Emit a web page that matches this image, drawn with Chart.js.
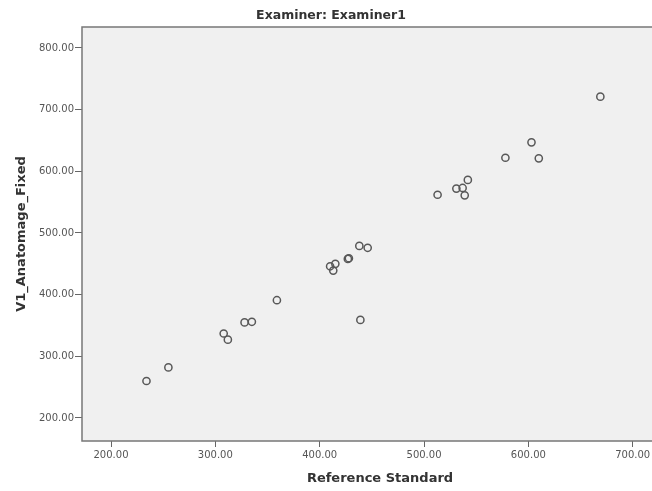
<!DOCTYPE html>
<html>
<head>
<meta charset="utf-8">
<script src="https://cdn.jsdelivr.net/npm/chart.js@4.4.0/dist/chart.umd.min.js"></script>
<style>
  html, body { margin: 0; padding: 0; background: #fff; overflow: hidden; }
  #wrap { width: 652px; height: 491px; }
</style>
</head>
<body>
<div id="wrap"><canvas id="chart"></canvas></div>
<script>
// values
const refStandard = [234, 255, 308, 312, 328, 335, 359, 439, 410, 415, 413, 427, 428, 438, 446,
                     669, 603, 578, 610, 542, 531, 537, 539, 513];
const anatomage  = [260, 282, 337, 327, 355, 356, 391, 359, 446, 450, 439, 458, 459, 479, 476,
                     721, 647, 622, 621, 586, 572, 573, 561, 562];

const chartTitle = 'Examiner: Examiner1';
const xTitle = 'Reference Standard';
const yTitle = 'V1_Anatomage_Fixed';

// build point list for chart.js
let points = [];
for (let i = 0; i < refStandard.length; i++) {
    points.push({x: refStandard[i], y: anatomage[i]});
}

const tickFont = {family: 'DejaVu Sans', size: 10};
const titleFont = {family: 'DejaVu Sans', size: 13, weight: 'bold'};

// grey plot background + frame (right side runs off the picture)
// x axis title drawn here too, spss centres it a bit right of the visible area
const plotFrame = {
    id: 'plotFrame',
    beforeDraw(chart) {
        const {ctx, chartArea: a} = chart;
        ctx.save();
        ctx.fillStyle = '#f0f0f0';
        ctx.fillRect(a.left, a.top, chart.width - a.left, a.bottom - a.top);
        ctx.restore();
    },
    afterDraw(chart) {
        const {ctx, chartArea: a} = chart;
        ctx.save();
        ctx.strokeStyle = '#777';
        ctx.lineWidth = 1.5;
        ctx.beginPath();
        ctx.moveTo(chart.width + 2, a.top);
        ctx.lineTo(a.left, a.top);
        ctx.lineTo(a.left, a.bottom);
        ctx.lineTo(chart.width + 2, a.bottom);
        ctx.stroke();

        ctx.fillStyle = '#333';
        ctx.font = 'bold 13px "DejaVu Sans"';
        ctx.textAlign = 'center';
        ctx.textBaseline = 'middle';
        ctx.fillText(xTitle, 380, 479);
        ctx.restore();
    }
};

new Chart(document.getElementById('chart'), {
    type: 'scatter',
    data: {
        datasets: [{
            data: points,
            pointStyle: 'circle',
            pointRadius: 3.6,
            pointHoverRadius: 3.6,
            pointBorderWidth: 1.5,
            pointBorderColor: '#585858',
            pointBackgroundColor: 'rgba(0,0,0,0)'
        }]
    },
    options: {
        responsive: true,
        maintainAspectRatio: false,
        animation: false,
        layout: {autoPadding: false, padding: {left: 10, right: 0, top: 0, bottom: 0}},
        plugins: {
            legend: {display: false},
            tooltip: {enabled: false},
            title: {
                display: true,
                text: chartTitle,
                color: '#333',
                font: {family: 'DejaVu Sans', size: 12.5, weight: 'bold'},
                padding: {top: 8, bottom: 4}
            }
        },
        scales: {
            x: {
                type: 'linear',
                min: 172.2,
                max: 718.5,
                afterFit: s => { s.height = 50; s.paddingLeft = 0; s.paddingRight = 0; },
                border: {display: false},
                grid: {drawOnChartArea: false, drawTicks: true, tickLength: 6, tickColor: '#666', lineWidth: 1},
                ticks: {
                    stepSize: 100,
                    includeBounds: false,
                    color: '#555',
                    font: tickFont,
                    padding: 2,
                    maxRotation: 0,
                    callback: v => v.toFixed(2)
                },
                title: {display: false}
            },
            y: {
                type: 'linear',
                min: 162.7,
                max: 834,
                afterFit: s => { s.width = 72; s.paddingTop = 0; s.paddingBottom = 0; },
                border: {display: false},
                grid: {drawOnChartArea: false, drawTicks: true, tickLength: 7, tickColor: '#666', lineWidth: 1},
                ticks: {
                    stepSize: 100,
                    includeBounds: false,
                    color: '#555',
                    font: tickFont,
                    padding: 1,
                    callback: v => v.toFixed(2)
                },
                title: {display: true, text: yTitle, color: '#333', font: titleFont, padding: {top: 4, bottom: 0}}
            }
        }
    },
    plugins: [plotFrame]
});
</script>
</body>
</html>
